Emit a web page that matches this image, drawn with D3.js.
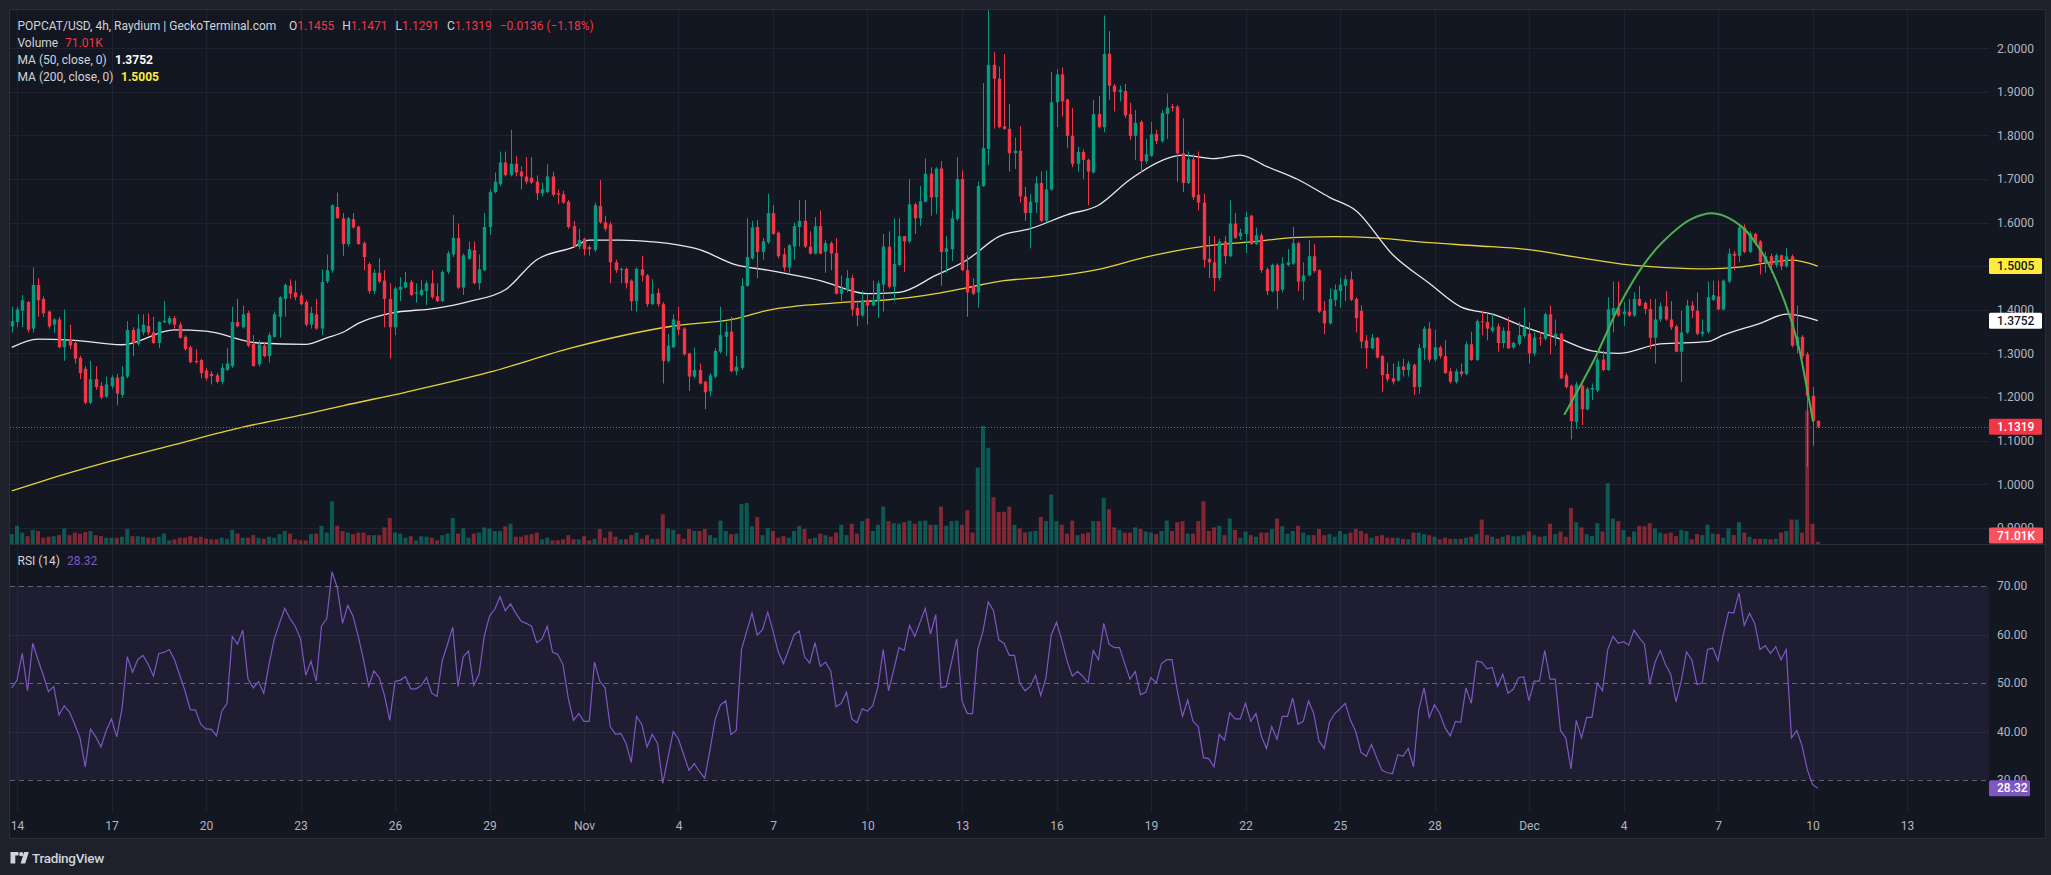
<!DOCTYPE html>
<html><head><meta charset="utf-8">
<script src="https://cdn.jsdelivr.net/npm/d3@7"></script>
<style>
html,body{margin:0;padding:0;background:#1e212b;overflow:hidden;}
svg{display:block;font-family:Roboto,"Noto Sans",sans-serif;}
</style></head><body>
<svg id="c" width="2051" height="875"></svg>
<script>
// ---------- DATA (4h candles, index 0 = first visible candle, Oct 13 20:00) ----------
const firstT = -1; // candle index offset relative to Oct 14 00:00
const opens = [1.362,
1.372,1.398,1.418,1.357,1.457,1.425,1.396,1.366,1.378,1.314,
1.331,1.324,1.290,1.265,1.187,1.241,1.226,1.201,1.225,1.245,
1.205,1.247,1.354,1.322,1.348,1.363,1.348,1.324,1.372,1.369,
1.381,1.366,1.338,1.314,1.283,1.285,1.261,1.253,1.250,1.235,
1.262,1.271,1.372,1.360,1.393,1.322,1.275,1.318,1.294,1.338,
1.384,1.425,1.455,1.440,1.433,1.418,1.366,1.390,1.357,1.465,
1.491,1.636,1.610,1.551,1.608,1.591,1.553,1.505,1.443,1.485,
1.467,1.425,1.360,1.446,1.451,1.464,1.437,1.434,1.443,1.461,
1.431,1.420,1.487,1.527,1.565,1.451,1.517,1.537,1.461,1.491,
1.590,1.670,1.688,1.738,1.709,1.735,1.717,1.706,1.703,1.694,
1.667,1.670,1.706,1.667,1.665,1.648,1.592,1.545,1.563,1.544,
1.537,1.638,1.601,1.596,1.509,1.491,1.494,1.467,1.420,1.493,
1.479,1.413,1.439,1.413,1.283,1.314,1.375,1.357,1.300,1.247,
1.262,1.235,1.213,1.247,1.304,1.338,1.350,1.259,1.267,1.455,
1.518,1.590,1.533,1.555,1.622,1.577,1.527,1.497,1.545,1.590,
1.604,1.545,1.529,1.592,1.533,1.553,1.530,1.437,1.446,1.473,
1.404,1.387,1.422,1.410,1.420,1.458,1.545,1.453,1.503,1.569,
1.557,1.642,1.610,1.648,1.712,1.658,1.724,1.533,1.539,1.608,
1.700,1.491,1.455,1.440,1.684,1.769,1.962,1.930,1.821,1.815,
1.759,1.765,1.660,1.622,1.646,1.691,1.604,1.676,1.876,1.940,
1.882,1.799,1.735,1.762,1.744,1.715,1.849,1.819,1.987,1.914,
1.900,1.902,1.849,1.799,1.831,1.741,1.753,1.803,1.787,1.849,
1.866,1.866,1.759,1.691,1.745,1.664,1.646,1.517,1.509,1.473,
1.557,1.523,1.598,1.569,1.574,1.616,1.551,1.571,1.493,1.443,
1.503,1.446,1.503,1.506,1.553,1.465,1.479,1.523,1.491,1.398,
1.369,1.422,1.443,1.455,1.470,1.425,1.398,1.330,1.312,1.336,
1.294,1.253,1.243,1.238,1.270,1.262,1.274,1.223,1.312,1.357,
1.286,1.314,1.294,1.259,1.235,1.259,1.253,1.321,1.285,1.374,
1.372,1.352,1.362,1.324,1.352,1.314,1.322,1.340,1.345,1.300,
1.336,1.334,1.390,1.338,1.345,1.250,1.226,1.143,1.226,1.172,
1.217,1.215,1.286,1.262,1.387,1.404,1.390,1.396,1.387,1.425,
1.416,1.402,1.336,1.378,1.408,1.378,1.362,1.304,1.348,1.410,
1.398,1.345,1.350,1.423,1.431,1.401,1.465,1.529,1.524,1.589,
1.533,1.574,1.557,1.509,1.523,1.503,1.525,1.500,1.523,1.318,
1.338,1.298,1.203,1.1455];
const highs = [1.407,
1.407,1.434,1.420,1.497,1.473,1.431,1.398,1.381,1.384,1.401,
1.366,1.330,1.295,1.271,1.283,1.271,1.235,1.247,1.250,1.253,
1.271,1.374,1.360,1.390,1.390,1.392,1.384,1.374,1.420,1.386,
1.386,1.372,1.342,1.318,1.310,1.288,1.267,1.259,1.255,1.277,
1.312,1.407,1.425,1.410,1.398,1.342,1.330,1.324,1.348,1.396,
1.431,1.461,1.470,1.467,1.440,1.422,1.407,1.425,1.493,1.527,
1.642,1.669,1.622,1.613,1.622,1.593,1.557,1.509,1.493,1.518,
1.491,1.461,1.453,1.475,1.487,1.469,1.461,1.469,1.467,1.491,
1.461,1.491,1.535,1.618,1.598,1.529,1.557,1.557,1.527,1.622,
1.676,1.715,1.763,1.763,1.813,1.753,1.729,1.750,1.750,1.708,
1.692,1.734,1.717,1.676,1.673,1.652,1.604,1.586,1.565,1.548,
1.646,1.698,1.616,1.602,1.515,1.497,1.497,1.470,1.497,1.524,
1.482,1.470,1.449,1.418,1.345,1.390,1.407,1.360,1.302,1.314,
1.277,1.238,1.255,1.312,1.407,1.372,1.384,1.294,1.473,1.610,
1.604,1.606,1.565,1.666,1.640,1.580,1.542,1.551,1.600,1.652,
1.652,1.580,1.613,1.628,1.560,1.557,1.565,1.479,1.491,1.481,
1.422,1.443,1.437,1.467,1.467,1.574,1.580,1.610,1.610,1.569,
1.700,1.646,1.684,1.747,1.727,1.727,1.741,1.569,1.628,1.750,
1.720,1.525,1.473,1.694,1.920,2.087,1.992,1.958,1.986,1.872,
1.795,1.821,1.682,1.666,1.706,1.717,1.720,1.946,1.952,1.956,
1.884,1.863,1.774,1.768,1.747,1.882,1.890,2.075,2.039,1.918,
1.914,1.918,1.875,1.858,1.835,1.792,1.831,1.813,1.858,1.896,
1.872,1.870,1.839,1.763,1.757,1.763,1.667,1.569,1.569,1.563,
1.569,1.652,1.622,1.586,1.625,1.618,1.589,1.577,1.497,1.506,
1.506,1.521,1.539,1.590,1.556,1.509,1.560,1.551,1.493,1.420,
1.449,1.458,1.473,1.479,1.488,1.429,1.410,1.342,1.345,1.338,
1.297,1.279,1.277,1.283,1.288,1.283,1.277,1.321,1.362,1.372,
1.354,1.318,1.330,1.267,1.265,1.277,1.327,1.350,1.378,1.398,
1.393,1.390,1.369,1.360,1.384,1.327,1.372,1.405,1.372,1.348,
1.350,1.393,1.410,1.378,1.348,1.255,1.229,1.235,1.229,1.223,
1.231,1.291,1.306,1.429,1.465,1.465,1.418,1.425,1.440,1.455,
1.420,1.425,1.425,1.417,1.443,1.420,1.366,1.398,1.423,1.420,
1.440,1.378,1.465,1.467,1.467,1.470,1.541,1.535,1.592,1.596,
1.580,1.577,1.560,1.533,1.529,1.529,1.527,1.542,1.527,1.410,
1.342,1.303,1.223,1.1471];
const lows = [1.348,
1.360,1.360,1.348,1.348,1.384,1.384,1.357,1.348,1.312,1.283,
1.310,1.277,1.241,1.184,1.184,1.217,1.195,1.198,1.219,1.181,
1.199,1.243,1.294,1.318,1.342,1.342,1.322,1.312,1.369,1.365,
1.357,1.334,1.306,1.277,1.277,1.243,1.238,1.229,1.231,1.229,
1.260,1.267,1.360,1.357,1.314,1.270,1.270,1.291,1.279,1.336,
1.336,1.384,1.425,1.422,1.410,1.362,1.357,1.354,1.342,1.461,
1.485,1.610,1.524,1.545,1.586,1.549,1.491,1.437,1.437,1.461,
1.360,1.288,1.342,1.420,1.449,1.431,1.416,1.431,1.411,1.425,
1.418,1.418,1.482,1.521,1.448,1.434,1.515,1.458,1.446,1.489,
1.572,1.667,1.684,1.706,1.706,1.706,1.676,1.688,1.688,1.652,
1.660,1.667,1.660,1.643,1.643,1.586,1.542,1.539,1.525,1.524,
1.533,1.598,1.580,1.461,1.485,1.461,1.449,1.398,1.396,1.465,
1.407,1.411,1.407,1.231,1.279,1.312,1.342,1.295,1.214,1.243,
1.229,1.172,1.202,1.243,1.300,1.294,1.257,1.250,1.262,1.453,
1.515,1.473,1.515,1.551,1.572,1.518,1.489,1.485,1.515,1.545,
1.542,1.527,1.527,1.527,1.485,1.491,1.435,1.420,1.440,1.386,
1.363,1.384,1.366,1.408,1.381,1.396,1.449,1.420,1.500,1.487,
1.553,1.574,1.592,1.646,1.616,1.620,1.455,1.485,1.512,1.604,
1.489,1.384,1.434,1.405,1.682,1.732,1.816,1.816,1.813,1.717,
1.723,1.646,1.604,1.541,1.622,1.601,1.601,1.673,1.819,1.843,
1.771,1.727,1.717,1.700,1.640,1.713,1.816,1.807,1.882,1.855,
1.878,1.840,1.789,1.744,1.715,1.735,1.751,1.780,1.783,1.792,
1.855,1.694,1.670,1.688,1.652,1.628,1.497,1.473,1.443,1.467,
1.505,1.521,1.563,1.560,1.530,1.549,1.549,1.485,1.434,1.440,
1.401,1.440,1.500,1.503,1.443,1.422,1.477,1.485,1.393,1.345,
1.366,1.408,1.405,1.420,1.420,1.348,1.312,1.265,1.310,1.288,
1.211,1.235,1.229,1.235,1.247,1.247,1.205,1.208,1.285,1.280,
1.281,1.288,1.253,1.231,1.231,1.247,1.250,1.283,1.283,1.342,
1.330,1.348,1.304,1.312,1.310,1.310,1.318,1.336,1.277,1.294,
1.318,1.330,1.298,1.318,1.241,1.219,1.103,1.127,1.136,1.169,
1.193,1.211,1.259,1.260,1.348,1.384,1.363,1.384,1.384,1.408,
1.390,1.310,1.277,1.372,1.375,1.354,1.303,1.235,1.345,1.381,
1.342,1.338,1.345,1.420,1.399,1.399,1.461,1.491,1.509,1.530,
1.530,1.548,1.481,1.485,1.485,1.497,1.491,1.497,1.314,1.300,
1.288,1.040,1.088,1.1291];
const closes = [1.374,
1.401,1.422,1.354,1.457,1.422,1.392,1.362,1.378,1.314,1.330,
1.318,1.288,1.255,1.187,1.241,1.223,1.199,1.229,1.245,1.208,
1.247,1.354,1.324,1.357,1.366,1.348,1.324,1.372,1.375,1.381,
1.366,1.336,1.310,1.280,1.280,1.255,1.243,1.248,1.235,1.267,
1.277,1.372,1.362,1.390,1.318,1.271,1.321,1.294,1.342,1.390,
1.429,1.457,1.437,1.429,1.413,1.366,1.393,1.357,1.464,1.491,
1.640,1.610,1.551,1.610,1.589,1.551,1.521,1.443,1.485,1.465,
1.425,1.360,1.449,1.453,1.464,1.434,1.440,1.446,1.461,1.429,
1.420,1.487,1.530,1.565,1.451,1.525,1.539,1.461,1.493,1.590,
1.670,1.694,1.738,1.709,1.735,1.715,1.706,1.694,1.692,1.667,
1.676,1.706,1.664,1.664,1.646,1.590,1.545,1.560,1.539,1.539,
1.640,1.601,1.586,1.509,1.491,1.494,1.461,1.420,1.494,1.479,
1.413,1.437,1.413,1.283,1.318,1.378,1.354,1.298,1.247,1.262,
1.231,1.211,1.250,1.306,1.342,1.350,1.259,1.270,1.455,1.521,
1.589,1.533,1.557,1.622,1.574,1.523,1.497,1.548,1.592,1.604,
1.545,1.529,1.592,1.529,1.553,1.529,1.437,1.449,1.473,1.401,
1.387,1.422,1.410,1.423,1.461,1.545,1.453,1.505,1.569,1.557,
1.642,1.610,1.649,1.712,1.658,1.724,1.533,1.541,1.610,1.700,
1.491,1.440,1.437,1.684,1.771,1.962,1.930,1.819,1.815,1.759,
1.765,1.660,1.622,1.648,1.690,1.604,1.676,1.876,1.940,1.878,
1.799,1.735,1.762,1.744,1.717,1.849,1.819,1.987,1.914,1.900,
1.905,1.846,1.799,1.829,1.741,1.757,1.803,1.787,1.851,1.864,
1.863,1.759,1.691,1.745,1.658,1.646,1.515,1.509,1.473,1.557,
1.523,1.598,1.565,1.577,1.613,1.551,1.571,1.491,1.443,1.503,
1.443,1.506,1.509,1.553,1.465,1.479,1.523,1.489,1.396,1.369,
1.425,1.446,1.458,1.470,1.423,1.381,1.327,1.312,1.336,1.291,
1.250,1.241,1.235,1.270,1.262,1.277,1.223,1.312,1.357,1.286,
1.314,1.294,1.255,1.235,1.259,1.253,1.321,1.285,1.374,1.372,
1.357,1.360,1.324,1.352,1.312,1.324,1.342,1.360,1.300,1.336,
1.334,1.390,1.342,1.345,1.243,1.223,1.145,1.229,1.172,1.219,
1.221,1.286,1.262,1.401,1.404,1.387,1.396,1.387,1.425,1.410,
1.402,1.336,1.378,1.408,1.378,1.360,1.304,1.348,1.410,1.398,
1.345,1.350,1.429,1.434,1.401,1.467,1.529,1.524,1.589,1.533,
1.574,1.553,1.509,1.523,1.503,1.525,1.500,1.523,1.318,1.338,
1.294,1.203,1.1455,1.1319];
// volume in thousands
const volumes = [317,
585,367,250,451,418,200,234,250,284,501,
284,367,334,384,418,284,250,200,200,200,
234,484,250,250,234,200,200,234,334,117,
150,200,200,250,200,234,167,150,150,200,
167,451,334,200,200,284,200,167,234,200,
317,418,334,150,117,117,317,334,585,367,
1369,585,418,367,317,367,367,284,284,284,
534,835,367,334,200,250,117,250,234,200,
117,284,334,835,334,501,200,334,367,534,
501,418,418,568,651,234,234,284,317,367,
150,200,117,117,150,284,150,150,250,117,
167,484,200,401,234,150,150,284,367,167,
284,167,167,952,501,451,317,167,484,418,
418,484,284,200,752,418,317,334,1286,1319,
568,868,284,518,418,200,250,200,418,585,
484,167,200,334,284,234,367,618,284,651,
334,735,818,418,618,1202,735,668,651,701,
752,651,735,752,618,618,1202,585,735,752,
618,1086,367,2455,3791,3090,1503,1035,1035,1202,
618,501,367,401,418,868,735,1587,735,618,
334,752,284,334,367,735,735,1486,1119,534,
451,367,367,534,484,401,367,317,418,752,
418,701,735,334,334,735,1369,418,534,585,
284,818,451,200,401,284,234,367,367,484,
818,568,334,418,585,367,284,284,484,284,
317,234,418,317,367,484,418,334,200,250,
284,200,200,200,167,150,367,367,317,284,
234,150,200,167,167,167,200,234,317,785,
284,234,167,234,284,250,250,284,401,284,
234,250,651,317,401,234,1152,701,534,317,
250,668,401,1954,818,735,451,234,401,585,
568,668,501,367,334,367,250,451,418,150,
317,284,618,334,317,200,501,284,701,367,
234,167,167,167,150,167,367,418,785,785,
367,4292,651,71.01];
const rsiValues = [49.0,
50.6,56.1,48.4,58.2,54.8,51.6,48.2,49.3,43.4,45.3,
44.0,41.5,38.7,32.7,40.5,38.9,36.8,40.2,42.6,38.9,
44.7,55.4,52.2,54.8,55.7,53.8,51.4,56.1,56.3,56.9,
54.8,51.6,48.4,44.5,44.4,41.5,40.5,40.5,39.1,44.2,
45.8,59.6,58.0,60.9,50.8,49.0,50.3,47.9,53.8,59.1,
62.3,65.4,63.3,61.7,59.1,51.6,54.5,50.4,61.7,63.3,
72.9,69.7,62.3,66.0,63.8,59.6,54.8,49.3,52.5,51.1,
47.4,42.3,50.3,50.6,51.3,48.8,48.8,49.5,51.1,47.9,
47.2,54.6,58.0,61.5,49.3,55.4,56.6,49.5,51.8,59.6,
63.8,65.2,67.8,64.9,66.3,64.4,62.8,62.3,61.7,58.3,
59.1,61.7,56.4,55.9,53.8,46.9,42.3,43.7,42.1,42.1,
54.3,50.4,49.0,41.0,39.4,39.6,37.6,33.6,43.1,41.5,
36.8,39.4,37.6,29.3,34.6,40.0,38.4,35.2,32.0,33.4,
31.7,30.4,36.2,42.6,45.5,46.3,39.4,40.2,56.9,60.7,
64.4,59.9,61.0,64.6,60.7,56.4,54.0,56.9,59.9,60.7,
55.4,54.1,58.3,53.4,54.3,52.5,45.1,45.8,48.1,42.6,
41.8,44.7,44.2,45.3,49.3,56.9,48.4,52.7,57.3,56.7,
61.9,59.6,62.5,65.4,60.1,64.1,49.0,49.3,54.3,59.1,
46.3,43.7,43.7,56.9,60.7,66.7,64.9,58.9,58.2,55.7,
55.7,50.0,48.4,49.3,51.6,47.4,51.1,59.9,62.5,58.9,
54.6,51.4,52.4,51.4,50.0,56.7,54.8,62.3,58.0,57.3,
57.3,54.0,50.8,52.4,47.6,48.1,51.1,50.0,54.0,54.8,
54.8,48.4,43.1,46.5,42.1,41.0,34.6,34.4,32.7,39.4,
38.2,43.9,42.6,42.6,45.8,42.1,43.7,39.1,36.5,41.0,
38.4,43.1,43.1,46.9,41.5,42.1,46.3,43.7,38.0,36.5,
41.9,43.7,44.7,45.8,42.3,40.0,35.7,34.9,37.3,34.6,
32.0,31.5,31.3,35.2,34.9,36.5,32.7,44.4,49.0,42.9,
45.5,43.7,40.8,39.1,42.1,41.9,49.0,45.8,54.5,54.3,
52.9,53.2,49.3,51.8,47.9,48.7,51.1,51.3,46.3,50.4,
50.4,56.7,50.8,50.8,40.2,38.7,32.3,42.3,38.7,42.9,
42.9,50.0,48.4,56.9,59.6,58.2,58.5,57.8,60.9,59.3,
58.0,49.7,54.3,56.7,53.8,51.8,46.1,50.4,56.4,54.8,
49.7,50.0,56.9,57.2,54.6,59.9,64.6,64.4,68.6,61.9,
64.4,62.3,56.9,57.7,56.1,57.5,54.8,56.9,38.7,40.2,
37.1,32.2,29.1,28.32];
// moving averages read at sample candles (candle index relative to Oct 14 00:00)
const ma50T = [-1,4,11,20,30,36,46,55,59,62,65,71,80,86,93,99,106,109,115,121,130,137,143,153,162,168,175,181,187,193,200,206,212,219,222,228,233,238,244,250,255,262,269,275,281,288,294,300,305,313,322,325,332,337,339,343];
const ma50V = [1.314,1.333,1.330,1.320,1.354,1.351,1.324,1.321,1.336,1.348,1.369,1.392,1.404,1.419,1.446,1.515,1.544,1.560,1.560,1.556,1.538,1.503,1.491,1.467,1.437,1.440,1.479,1.515,1.568,1.586,1.618,1.640,1.699,1.747,1.755,1.747,1.755,1.729,1.699,1.658,1.628,1.527,1.461,1.407,1.390,1.357,1.333,1.306,1.300,1.322,1.327,1.342,1.369,1.390,1.388,1.3752];
const ma200T = [-1,5,17,30,43,55,62,74,90,106,125,137,143,156,165,175,181,188,196,206,215,225,235,244,251,259,269,278,288,297,307,314,322,328,334,338,343];
const ma200V = [0.985,1.008,1.050,1.091,1.131,1.161,1.180,1.211,1.257,1.314,1.363,1.380,1.399,1.416,1.422,1.437,1.451,1.467,1.475,1.493,1.521,1.544,1.556,1.566,1.568,1.565,1.554,1.547,1.538,1.521,1.503,1.497,1.494,1.498,1.509,1.514,1.5005];
// hand-drawn arc annotation (candle index, price)
const arcT = [294.8,300.5,305.6,309.7,313.5,318.9,323.4,328.4,332.9,336.7,339.2,340.8,342.1];
const arcV = [1.161,1.288,1.419,1.501,1.556,1.608,1.621,1.592,1.521,1.419,1.324,1.229,1.145];
// ticks
const priceTicks = [0.9,1.0,1.1,1.2,1.3,1.4,1.5,1.6,1.7,1.8,1.9,2.0];
const rsiTicks = [30,40,50,60,70];
const rsiLevels = [70,50,30];
const dayTicks = [0,18,36,54,72,90,108,126,144,162,180,198,216,234,252,270,288,306,324,342,360];
const dayLabels = ["14","17","20","23","26","29","Nov","4","7","10","13","16","19","22","25","28","Dec","4","7","10","13"];
const legendTitle = "POPCAT/USD, 4h, Raydium | GeckoTerminal.com";
const changeText = "\u22120.0136 (\u22121.18%)";

// ---------- DRAW ----------
const svg = d3.select("#c");
const UP = "#089981", DN = "#f23645";
const GRID = "#1f2330";
const plotL = 9, plotR = 1989, frameR = 2045, frameT = 9, paneB = 544, rsiB = 812, frameB = 838;

const x = d3.scaleLinear().domain([0, 342]).range([17, 1812.5]);
const y = d3.scaleLinear().domain([0.9, 2.0]).range([527.9, 48.2]);
const vy = d3.scaleLinear().domain([0, 5000]).range([paneB, 388.4]);
const ry = d3.scaleLinear().domain([30, 70]).range([780, 586]);

svg.append("rect").attr("width",2051).attr("height",875).attr("fill","#1e212b");
svg.append("rect").attr("x",plotL+0.5).attr("y",frameT+0.5).attr("width",frameR-plotL).attr("height",frameB-frameT)
  .attr("fill","#131722").attr("stroke","#2a2e39");

const defs = svg.append("defs");
defs.append("clipPath").attr("id","cp").append("rect").attr("x",plotL+1).attr("y",frameT+1).attr("width",plotR-plotL-1).attr("height",paneB-frameT-1);
defs.append("clipPath").attr("id","cr").append("rect").attr("x",plotL+1).attr("y",paneB+1).attr("width",plotR-plotL-1).attr("height",rsiB-paneB-1);

// grid
const g = svg.append("g");
g.selectAll(".vg").data(dayTicks.filter(t=>x(t)<plotR)).join("line")
  .attr("x1",d=>Math.round(x(d))+0.5).attr("x2",d=>Math.round(x(d))+0.5)
  .attr("y1",frameT+1).attr("y2",rsiB).attr("stroke",GRID);
g.selectAll(".hg").data(priceTicks).join("line")
  .attr("x1",plotL+1).attr("x2",plotR).attr("y1",d=>Math.round(y(d))+0.5).attr("y2",d=>Math.round(y(d))+0.5).attr("stroke",GRID);
g.selectAll(".rg").data([40,60]).join("line")
  .attr("x1",plotL+1).attr("x2",plotR).attr("y1",d=>Math.round(ry(d))+0.5).attr("y2",d=>Math.round(ry(d))+0.5).attr("stroke",GRID);

// pane separator
svg.append("line").attr("x1",plotL).attr("x2",frameR).attr("y1",paneB+0.5).attr("y2",paneB+0.5).attr("stroke","#2a2e39");

const idx = d3.range(closes.length);
const tOf = i => i + firstT;

// volume
const pv = svg.append("g").attr("clip-path","url(#cp)");
pv.selectAll("rect").data(idx).join("rect")
  .attr("x",i=>x(tOf(i))-2).attr("width",4)
  .attr("y",i=>vy(volumes[i])).attr("height",i=>paneB-vy(volumes[i]))
  .attr("fill",i=>closes[i]>=opens[i]?"rgba(8,153,129,0.5)":"rgba(242,54,69,0.5)");

// MA lines
const pl = svg.append("g").attr("clip-path","url(#cp)");
const lineMA = d3.line().x(d=>x(d[0])).y(d=>y(d[1])).curve(d3.curveMonotoneX);
pl.append("path").attr("d",lineMA(ma200T.map((t,i)=>[t,ma200V[i]]))).attr("fill","none").attr("stroke","#e6d23a").attr("stroke-width",1.3);
pl.append("path").attr("d",lineMA(ma50T.map((t,i)=>[t,ma50V[i]]))).attr("fill","none").attr("stroke","#e8e8ea").attr("stroke-width",1.3);

// last price dotted line
const last = closes.length-1;
pl.append("line").attr("x1",plotL+1).attr("x2",plotR).attr("y1",Math.round(y(closes[last]))+0.5).attr("y2",Math.round(y(closes[last]))+0.5)
  .attr("stroke",DN).attr("stroke-dasharray","1,2");

// candles
const pc = svg.append("g").attr("clip-path","url(#cp)");
const cg = pc.selectAll("g").data(idx).join("g").attr("fill",i=>closes[i]>=opens[i]?UP:DN).attr("stroke",i=>closes[i]>=opens[i]?UP:DN);
cg.append("line").attr("x1",i=>Math.round(x(tOf(i)))+0.5).attr("x2",i=>Math.round(x(tOf(i)))+0.5)
  .attr("y1",i=>y(highs[i])).attr("y2",i=>y(lows[i])).attr("stroke-width",1);
cg.append("rect").attr("stroke","none")
  .attr("x",i=>Math.round(x(tOf(i)))+0.5-1.7).attr("width",3.4)
  .attr("y",i=>y(Math.max(opens[i],closes[i])))
  .attr("height",i=>Math.max(1,Math.abs(y(opens[i])-y(closes[i]))));

// arc annotation (above candles)
const pa2 = svg.append("g").attr("clip-path","url(#cp)");
pa2.append("path").attr("d",d3.line().x(d=>x(d[0])).y(d=>y(d[1])).curve(d3.curveCatmullRom)(arcT.map((t,i)=>[t,arcV[i]])))
  .attr("fill","none").attr("stroke","#4caf50").attr("stroke-width",2).attr("stroke-linecap","round");

// RSI pane
const pr = svg.append("g").attr("clip-path","url(#cr)");
pr.append("rect").attr("x",plotL+1).attr("width",plotR-plotL-1).attr("y",ry(70)).attr("height",ry(30)-ry(70)).attr("fill","rgba(126,87,194,0.1)");
pr.selectAll(".lv").data(rsiLevels).join("line")
  .attr("x1",plotL+1).attr("x2",plotR).attr("y1",d=>Math.round(ry(d))+0.5).attr("y2",d=>Math.round(ry(d))+0.5)
  .attr("stroke","#787b86").attr("stroke-opacity",0.75).attr("stroke-dasharray","5,4");
pr.append("path").attr("d",d3.line().x(i=>x(tOf(i))).y(i=>ry(rsiValues[i]))(idx))
  .attr("fill","none").attr("stroke","#7e57c2").attr("stroke-width",1.2);

// axes
const axisFont = 12, axisCol = "#b2b5be";
const pa = svg.append("g").attr("transform",`translate(1997,0)`)
  .call(d3.axisRight(y).tickValues(priceTicks).tickFormat(d3.format(".4f")).tickSize(0).tickPadding(0));
const ra = svg.append("g").attr("transform",`translate(1997,0)`)
  .call(d3.axisRight(ry).tickValues(rsiTicks).tickFormat(d3.format(".2f")).tickSize(0).tickPadding(0));
const ta = svg.append("g").attr("transform",`translate(0,821)`)
  .call(d3.axisBottom(x).tickValues(dayTicks).tickFormat((d,i)=>dayLabels[i]).tickSize(0).tickPadding(0));
[pa,ra,ta].forEach(a=>{a.select(".domain").remove();a.selectAll("text").attr("fill",axisCol).attr("font-size",axisFont).attr("font-family","Roboto,'Noto Sans',sans-serif");});

// axis tags (drawn over the axis labels, as in the source)
function tag(yc, txt, bg, fg, w){
  const tg = svg.append("g");
  tg.append("rect").attr("x",1989).attr("y",yc-8).attr("width",w).attr("height",16).attr("rx",1.5).attr("fill",bg);
  tg.append("text").attr("x",1997).attr("y",yc+4.3).attr("fill",fg).attr("font-size",12).attr("font-weight",500).text(txt);
}
tag(y(ma200V[ma200V.length-1]), d3.format(".4f")(ma200V[ma200V.length-1]), "#ffeb3b", "#131722", 53);
tag(y(ma50V[ma50V.length-1]), d3.format(".4f")(ma50V[ma50V.length-1]), "#ffffff", "#131722", 53);
tag(y(closes[last]), d3.format(".4f")(closes[last]), DN, "#ffffff", 53);
tag(Math.min(vy(volumes[last]), paneB-8.5), d3.format(".2f")(volumes[last])+"K", "#f7525f", "#ffffff", 54);
tag(ry(rsiValues[last]), d3.format(".2f")(rsiValues[last]), "#7e57c2", "#ffffff", 41);

// legend
const LC = "#d1d4dc", fs = 12;
function txt(xp, yp, s, col, wt){ return svg.append("text").attr("x",xp).attr("y",yp).attr("fill",col).attr("font-size",fs).attr("font-weight",wt||400).text(s); }
const f4 = d3.format(".4f");
const title = txt(17.5, 29.5, legendTitle, LC);
let cx = Math.max(289, 17.5 + title.node().getComputedTextLength() + 8);
[["O",opens[last]],["H",highs[last]],["L",lows[last]],["C",closes[last]]].forEach(([k,v])=>{
  const a = txt(cx, 29.5, k, LC); cx += a.node().getComputedTextLength();
  const b = txt(cx, 29.5, f4(v), DN); cx += b.node().getComputedTextLength() + 8;
});
txt(cx, 29.5, changeText, DN);
txt(17.5, 46.5, "Volume", LC); txt(65, 46.5, d3.format(".2f")(volumes[last])+"K", DN);
txt(17.5, 63.5, "MA (50, close, 0)", LC); txt(115, 63.5, f4(ma50V[ma50V.length-1]), "#ffffff", 700);
txt(17.5, 80.5, "MA (200, close, 0)", LC); txt(121, 80.5, f4(ma200V[ma200V.length-1]), "#ffeb3b", 700);
txt(17.5, 564.5, "RSI (14)", LC); txt(67, 564.5, d3.format(".2f")(rsiValues[last]), "#7e57c2");

// TradingView logo
const lg = svg.append("g").attr("fill","#d1d4dc");
lg.append("path").attr("d","M10.5 852h8v3.6h-3.2v7.9h-4.8v-7.9h0z");
lg.append("circle").attr("cx",21.3).attr("cy",854.2).attr("r",2.1);
lg.append("path").attr("d","M20.6 863.5l3.6-11.5h4.6l-3.6 11.5z");
lg.append("text").attr("x",32).attr("y",862.5).attr("font-size",13.5).attr("font-weight",500).attr("letter-spacing","-0.3").text("TradingView");
</script></body></html>
